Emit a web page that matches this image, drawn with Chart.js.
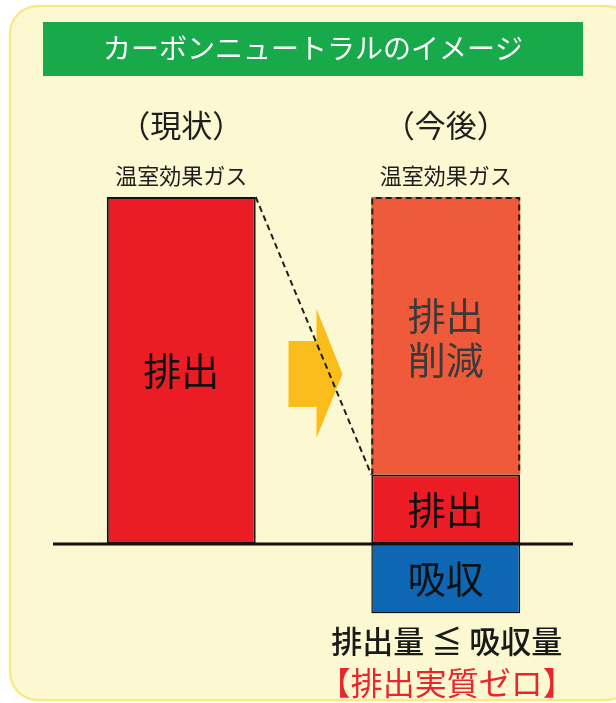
<!DOCTYPE html>
<html lang="ja">
<head>
<meta charset="utf-8">
<title>カーボンニュートラルのイメージ</title>
<script src="https://cdn.jsdelivr.net/npm/chart.js@4/dist/chart.umd.min.js"></script>
<style>
  html, body { margin: 0; padding: 0; background: #ffffff; }
  canvas { display: block; }
</style>
</head>
<body>
<canvas id="cnChart" width="616" height="703"></canvas>
<script>
/* ─────────────────────────────────────────────
   Data
───────────────────────────────────────────── */
const periods = ['現状', '今後'];
const periodLabels = ['（現状）', '（今後）'];
const gasLabel = '温室効果ガス';

const emissions = [100, 20];
const reductions = [null, 80];
const absorption = [null, -20];

const seriesNames = ['排出', '排出削減', '吸収'];
const barTexts = [['排出'], ['排出', '削減'], ['吸収']];

const titleText = 'カーボンニュートラルのイメージ';
const balanceText = '排出量 ≦ 吸収量';
const netZeroText = '【排出実質ゼロ】';

/* ─────────────────────────────────────────────
   Styles
───────────────────────────────────────────── */
const FONT = '"Noto Sans CJK JP", "Noto Sans", sans-serif';
const colors = {
  page: '#ffffff',
  panel: '#fcf8d1',
  panelEdge: '#f5eb8c',
  title: '#18a94b',
  red: '#ec1c24',
  orange: '#ef5a3a',
  blue: '#0d67b4',
  ink: '#1e1e1e',
  arrow: '#fbbd1b',
  zero: '#e8262b',
};

function roundRect(ctx, x, y, w, h, r) {
  ctx.beginPath();
  ctx.moveTo(x + r, y);
  ctx.lineTo(x + w - r, y);
  ctx.arcTo(x + w, y, x + w, y + r, r);
  ctx.lineTo(x + w, y + h - r);
  ctx.arcTo(x + w, y + h, x + w - r, y + h, r);
  ctx.lineTo(x + r, y + h);
  ctx.arcTo(x, y + h, x, y + h - r, r);
  ctx.lineTo(x, y + r);
  ctx.arcTo(x, y, x + r, y, r);
  ctx.closePath();
}

function barBox(el) {
  const p = el.getProps(['x', 'y', 'base', 'width'], true);
  return {
    left: p.x - p.width / 2,
    right: p.x + p.width / 2,
    top: Math.min(p.y, p.base),
    bottom: Math.max(p.y, p.base),
    cx: p.x,
  };
}

/* ─────────────────────────────────────────────
   Panel, headings and the arrow between the bars
───────────────────────────────────────────── */
const backdropPlugin = {
  id: 'backdrop',
  beforeDraw(chart) {
    const { ctx, width, height, scales: { x } } = chart;
    ctx.save();
    ctx.fillStyle = colors.page;
    ctx.fillRect(0, 0, width, height);

    roundRect(ctx, 10, 6, 624, 694, 28);
    ctx.fillStyle = colors.panel;
    ctx.fill();
    ctx.lineWidth = 2.5;
    ctx.strokeStyle = colors.panelEdge;
    ctx.stroke();

    // title band
    ctx.fillStyle = colors.title;
    ctx.fillRect(43, 22, 540, 54);
    ctx.fillStyle = '#ffffff';
    ctx.font = `28px ${FONT}`;
    ctx.textAlign = 'center';
    ctx.textBaseline = 'middle';
    ctx.fillText(titleText, 313, 48);

    // period headings
    ctx.fillStyle = colors.ink;
    periods.forEach((_, i) => {
      const cx = x.getPixelForValue(i);
      ctx.font = `31px ${FONT}`;
      ctx.fillText(periodLabels[i], cx, 125);
      ctx.font = `22px ${FONT}`;
      ctx.fillText(gasLabel, cx, 176);
    });
    ctx.restore();
  },
  beforeDatasetsDraw(chart) {
    const { ctx, scales: { y } } = chart;
    const before = barBox(chart.getDatasetMeta(0).data[0]);
    const after = barBox(chart.getDatasetMeta(0).data[1]);
    const cx = (before.right + after.left) / 2 + 2;
    const cy = y.getPixelForValue(49);

    ctx.save();
    ctx.fillStyle = colors.arrow;
    ctx.beginPath();
    ctx.moveTo(cx - 27, cy - 33);
    ctx.lineTo(cx + 1, cy - 33);
    ctx.lineTo(cx + 1, cy - 65);
    ctx.lineTo(cx + 27, cy);
    ctx.lineTo(cx + 1, cy + 64);
    ctx.lineTo(cx + 1, cy + 33);
    ctx.lineTo(cx - 27, cy + 33);
    ctx.closePath();
    ctx.fill();

    // guide from today's total down to what is still emitted
    ctx.strokeStyle = colors.ink;
    ctx.lineWidth = 2;
    ctx.setLineDash([6, 4]);
    ctx.beginPath();
    ctx.moveTo(before.right, before.top);
    ctx.lineTo(after.left, after.top);
    ctx.stroke();
    ctx.restore();
  },
};

/* ─────────────────────────────────────────────
   Bar captions, dashed outline, baseline, footnote
───────────────────────────────────────────── */
const overlayPlugin = {
  id: 'overlay',
  afterDatasetsDraw(chart) {
    const { ctx, chartArea, scales: { y } } = chart;
    ctx.save();

    // reduction block gets a dashed outline (open at the bottom)
    const cut = barBox(chart.getDatasetMeta(1).data[1]);
    ctx.strokeStyle = colors.ink;
    ctx.lineWidth = 2;
    ctx.setLineDash([6, 4]);
    ctx.beginPath();
    ctx.moveTo(cut.left + 1, cut.bottom);
    ctx.lineTo(cut.left + 1, cut.top + 1);
    ctx.lineTo(cut.right - 1, cut.top + 1);
    ctx.lineTo(cut.right - 1, cut.bottom);
    ctx.stroke();
    ctx.setLineDash([]);

    // captions inside bars
    ctx.textAlign = 'center';
    ctx.textBaseline = 'middle';
    chart.data.datasets.forEach((ds, di) => {
      chart.getDatasetMeta(di).data.forEach((el, i) => {
        if (ds.data[i] == null) return;
        const b = barBox(el);
        const lines = barTexts[di];
        const lh = 44;
        const mid = (b.top + b.bottom) / 2 + (di === 1 ? 2 : 0);
        ctx.font = `38px ${FONT}`;
        ctx.fillStyle = di === 1 ? '#3a3a3a' : '#111111';
        lines.forEach((t, k) => {
          ctx.fillText(t, b.cx, mid + (k - (lines.length - 1) / 2) * lh);
        });
      });
    });

    // ground line at zero
    const y0 = y.getPixelForValue(0);
    ctx.strokeStyle = '#111111';
    ctx.lineWidth = 3;
    ctx.beginPath();
    ctx.moveTo(chartArea.left + 4, y0);
    ctx.lineTo(chartArea.right - 5, y0);
    ctx.stroke();

    // footnote under the future bar
    const fx = barBox(chart.getDatasetMeta(2).data[1]).cx + 1;
    ctx.fillStyle = '#1a1a1a';
    ctx.font = `500 31px ${FONT}`;
    ctx.fillText(balanceText, fx, 641);
    ctx.fillStyle = colors.zero;
    ctx.font = `32px ${FONT}`;
    ctx.fillText(netZeroText, fx, 683);
    ctx.restore();
  },
};

/* ─────────────────────────────────────────────
   Chart
───────────────────────────────────────────── */
function initCarbonChart() {
  const el = document.getElementById('cnChart');
  new Chart(el, {
    type: 'bar',
    data: {
      labels: periods,
      datasets: [
        {
          label: seriesNames[0],
          data: emissions,
          backgroundColor: colors.red,
          borderColor: '#111111',
          borderWidth: 2,
          borderSkipped: false,
        },
        {
          label: seriesNames[1],
          data: reductions,
          backgroundColor: colors.orange,
          borderWidth: 0,
        },
        {
          label: seriesNames[2],
          data: absorption,
          backgroundColor: colors.blue,
          borderColor: '#111111',
          borderWidth: 1.5,
          borderSkipped: false,
        },
      ],
    },
    options: {
      responsive: false,
      animation: false,
      devicePixelRatio: 1,
      layout: { padding: { left: 49, right: 38, top: 197, bottom: 89.6 } },
      datasets: { bar: { categoryPercentage: 1, barPercentage: 0.563 } },
      plugins: {
        legend: { display: false },
        tooltip: { enabled: false },
      },
      scales: {
        x: { stacked: true, display: false },
        y: { stacked: true, display: false, min: -20, max: 100 },
      },
    },
    plugins: [backdropPlugin, overlayPlugin],
  });
}

initCarbonChart();
</script>
</body>
</html>
